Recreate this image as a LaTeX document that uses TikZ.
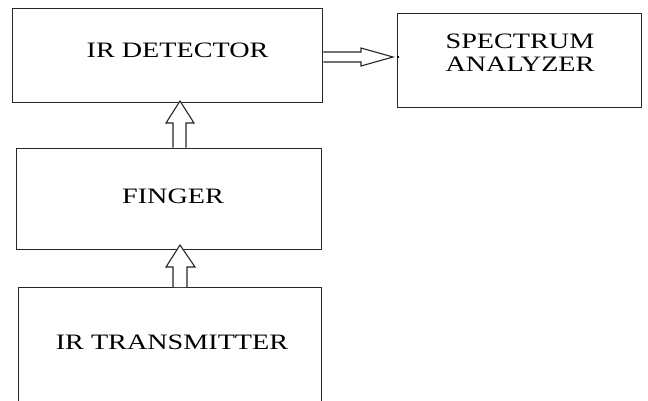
\documentclass[tikz,border=0pt]{standalone}
\usepackage{fontspec}
\setmainfont{Liberation Serif}[FakeStretch=1.28]
\begin{document}
\begin{tikzpicture}[x=1pt,y=-1pt,
  box/.style={draw=black!85,line width=1.3pt,inner sep=0pt,anchor=north west},
  lbl/.style={inner sep=0pt,font=\fontsize{22}{23}\selectfont,align=center},
  arr/.style={draw=black!85,line width=1.1pt,fill=white,line join=miter}]
\useasboundingbox (0,0) rectangle (648,400);
\clip (0,0) rectangle (648,400);
% boxes
\node[box,minimum width=310pt,minimum height=94pt] (det) at (12,8) {};
\node[box,minimum width=244pt,minimum height=94pt] (spec) at (397,13) {};
\node[box,minimum width=305pt,minimum height=101pt] (fin) at (16,147.5) {};
\node[box,minimum width=303pt,minimum height=130pt] (tx) at (18,287) {};
% labels
\node[lbl] (tdet) at (177.5,50) {IR DETECTOR};
\node[lbl] (tspec) at (520,53) {SPECTRUM\\ANALYZER};
\node[lbl] (tfin) at (173,196) {FINGER};
\node[lbl] (ttx) at (172,342) {IR TRANSMITTER};
% arrows
\draw[arr] (det.east |- 0,52) -- (361,52) -- (361,48) -- (393,57) -- (361,66) -- (361,62) -- (det.east |- 0,62);
\fill[black] (396.5,55.8) rectangle (399,58.2);
\draw[arr] (173,147.5) -- (173,123) -- (166,123) -- (180,101) -- (194,123) -- (186,123) -- (186,147.5);
\draw[arr] (173,287) -- (173,267) -- (166,267) -- (180,245) -- (195,267) -- (187,267) -- (187,287);
\end{tikzpicture}
\end{document}
